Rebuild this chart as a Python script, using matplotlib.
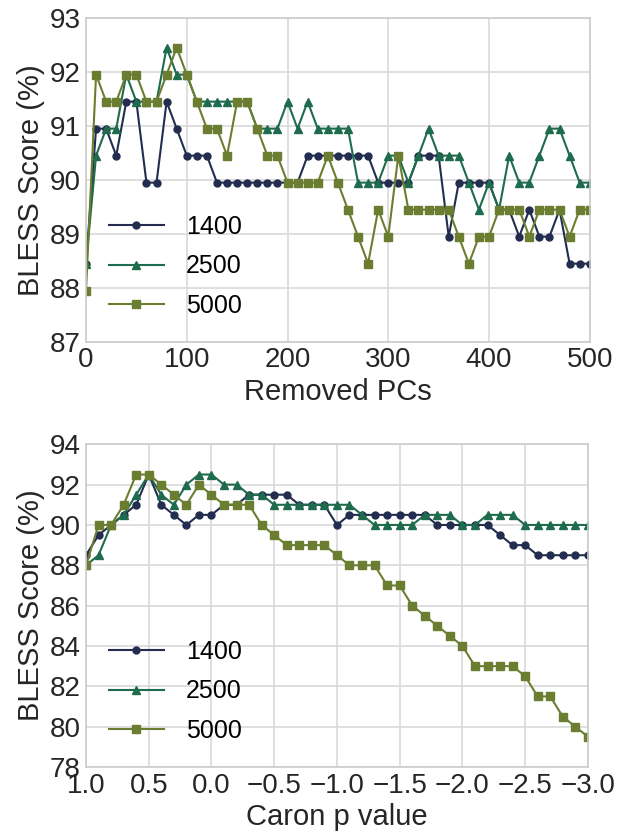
import numpy as np
import matplotlib.pyplot as plt

plt.rcParams['font.family'] = ['Liberation Sans', 'DejaVu Sans']

# top panel: removed PCs
pcs = np.arange(0, 510, 10)
pcs_1400 = [88.45, 90.95, 90.95, 90.45, 91.45, 91.45, 89.95, 89.95, 91.45, 90.95,
            90.45, 90.45, 90.45, 89.95, 89.95, 89.95, 89.95, 89.95, 89.95, 89.95,
            89.95, 89.95, 90.45, 90.45, 90.45, 90.45, 90.45, 90.45, 90.45, 89.95,
            89.95, 89.95, 89.95, 90.45, 90.45, 90.45, 88.95, 89.95, 89.95, 89.95,
            89.95, 89.45, 89.45, 88.95, 89.45, 88.95, 88.95, 89.45, 88.45, 88.45,
            88.45]
pcs_2500 = [88.45, 90.45, 90.95, 90.95, 91.95, 91.45, 91.45, 91.45, 92.45, 91.95,
            91.95, 91.45, 91.45, 91.45, 91.45, 91.45, 91.45, 90.95, 90.95, 90.95,
            91.45, 90.95, 91.45, 90.95, 90.95, 90.95, 90.95, 89.95, 89.95, 89.95,
            90.45, 90.45, 89.95, 90.45, 90.95, 90.45, 90.45, 90.45, 89.95, 89.45,
            89.95, 89.45, 90.45, 89.95, 89.95, 90.45, 90.95, 90.95, 90.45, 89.95,
            89.95]
pcs_5000 = [87.95, 91.95, 91.45, 91.45, 91.95, 91.95, 91.45, 91.45, 91.95, 92.45,
            91.95, 91.45, 90.95, 90.95, 90.45, 91.45, 91.45, 90.95, 90.45, 90.45,
            89.95, 89.95, 89.95, 89.95, 90.45, 89.95, 89.45, 88.95, 88.45, 89.45,
            88.95, 90.45, 89.45, 89.45, 89.45, 89.45, 89.45, 88.95, 88.45, 88.95,
            88.95, 89.45, 89.45, 89.45, 88.95, 89.45, 89.45, 89.45, 88.95, 89.45,
            89.45]

# bottom panel: Caron p value
caron = np.round(np.arange(1.0, -3.05, -0.1), 1)
caron_1400 = [88.5, 89.5, 90.0, 90.5, 91.0, 92.5, 91.0, 90.5, 90.0, 90.5,
              90.5, 91.0, 91.0, 91.5, 91.5, 91.5, 91.5, 91.0, 91.0, 91.0,
              90.0, 90.5, 90.5, 90.5, 90.5, 90.5, 90.5, 90.5, 90.0, 90.0,
              90.0, 90.0, 90.0, 89.5, 89.0, 89.0, 88.5, 88.5, 88.5, 88.5,
              88.5]
caron_2500 = [88.0, 88.5, 90.0, 90.5, 91.5, 92.5, 91.5, 91.0, 92.0, 92.5,
              92.5, 92.0, 92.0, 91.5, 91.5, 91.0, 91.0, 91.0, 91.0, 91.0,
              91.0, 91.0, 90.5, 90.0, 90.0, 90.0, 90.0, 90.5, 90.5, 90.5,
              90.0, 90.0, 90.5, 90.5, 90.5, 90.0, 90.0, 90.0, 90.0, 90.0,
              90.0]
caron_5000 = [88.0, 90.0, 90.0, 91.0, 92.5, 92.5, 92.0, 91.5, 91.0, 92.0,
              91.5, 91.0, 91.0, 91.0, 90.0, 89.5, 89.0, 89.0, 89.0, 89.0,
              88.5, 88.0, 88.0, 88.0, 87.0, 87.0, 86.0, 85.5, 85.0, 84.5,
              84.0, 83.0, 83.0, 83.0, 83.0, 82.5, 81.5, 81.5, 80.5, 80.0,
              79.5]

labels = ['1400', '2500', '5000']
colors = ['#222d4f', '#1f6b4e', '#6b7d30']
markers = ['o', '^', 's']
msizes = [5, 6, 6]

fig = plt.figure(figsize=(6.25, 8.34), dpi=100)
ax1 = fig.add_axes([0.1376, 0.590, 0.806, 0.3885])
ax2 = fig.add_axes([0.1376, 0.0803, 0.803, 0.387])

for ys, lab, c, m, ms in zip([pcs_1400, pcs_2500, pcs_5000], labels, colors, markers, msizes):
    ax1.plot(pcs, ys, color=c, marker=m, markersize=ms, lw=1.5, label=lab,
             markeredgecolor=c)
for ys, lab, c, m, ms in zip([caron_1400, caron_2500, caron_5000], labels, colors, markers, msizes):
    ax2.plot(caron, ys, color=c, marker=m, markersize=ms, lw=1.5, label=lab,
             markeredgecolor=c)

ax1.set_xlim(0, 500)
ax1.set_ylim(87, 93)
ax1.set_xticks(np.arange(0, 600, 100))
ax1.set_yticks(np.arange(87, 94, 1))
ax1.set_xlabel('Removed PCs', fontsize=21, color='#262626', labelpad=3)

ax2.set_xlim(1.0, -3.0)
ax2.set_ylim(78, 94)
ax2.set_xticks(np.arange(1.0, -3.5, -0.5))
ax2.set_yticks(np.arange(78, 96, 2))
ax2.set_xlabel('Caron p value', fontsize=21, color='#262626', labelpad=3)

for ax in (ax1, ax2):
    ax.set_ylabel('BLESS Score (%)', fontsize=21, color='#262626', labelpad=3)
    ax.grid(True, color='#d9d9d9', lw=1.2)
    ax.set_axisbelow(True)
    for s in ax.spines.values():
        s.set_color('#cccccc')
        s.set_linewidth(1.2)
    ax.tick_params(length=0, labelsize=20, labelcolor='#262626', pad=4)
    ax.legend(loc='lower left', frameon=False, fontsize=18, handlelength=2.2,
              borderaxespad=0.5, labelspacing=0.62, handletextpad=0.9,
              bbox_to_anchor=(0.0, 0.005))

fig.savefig('out.png', dpi=100)
